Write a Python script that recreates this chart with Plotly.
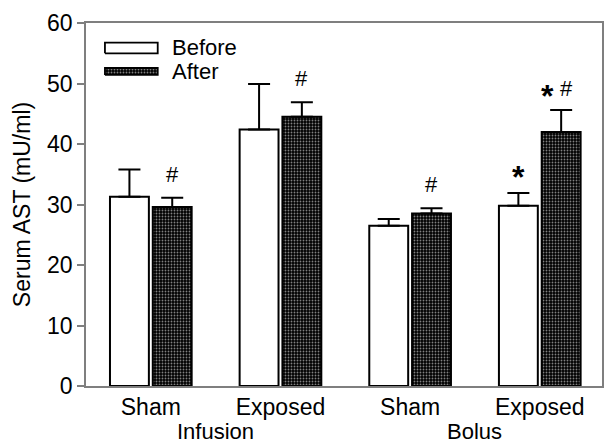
import plotly.graph_objects as go

categories = ["Sham", "Exposed", "Sham", "Exposed"]
groups = ["Infusion", "Bolus"]
before = [31.3, 42.4, 26.5, 29.8]
before_err = [4.5, 7.5, 1.1, 2.1]
after = [29.6, 44.5, 28.5, 42.0]
after_err = [1.5, 2.4, 0.9, 3.6]
before_star = [False, False, False, True]
after_star = [False, False, False, True]
after_hash = [True, True, True, True]
y_ticks = [0, 10, 20, 30, 40, 50, 60]

FONT = "Liberation Sans, Arial, sans-serif"
FS = 23
xpos = list(range(len(categories)))
AX = "#7f7f7f"
PATTERN = dict(shape=".", fgcolor="white", bgcolor="black", size=3, solidity=0.3)

fig = go.Figure()
fig.add_trace(go.Bar(
    x=xpos, y=before, name="Before", offset=-0.315, width=0.3,
    marker=dict(color="white", line=dict(color="black", width=2)),
    error_y=dict(type="data", array=before_err, arrayminus=[0]*4, symmetric=False,
                 color="black", thickness=2, width=11),
    showlegend=False,
))
fig.add_trace(go.Bar(
    x=xpos, y=after, name="After", offset=0.015, width=0.3,
    marker=dict(color="black", line=dict(color="black", width=2), pattern=PATTERN),
    error_y=dict(type="data", array=after_err, arrayminus=[0]*4, symmetric=False,
                 color="black", thickness=2, width=11),
    showlegend=False,
))

# legend drawn on an overlay axis spanning [0,1]
leg_boxes = {
    "Before": dict(x0=0.0367, x1=0.139, y0=0.9165, y1=0.946, fill="white", pat=None),
    "After": dict(x0=0.0367, x1=0.139, y0=0.857, y1=0.876, fill="black", pat=PATTERN),
}
for name, b in leg_boxes.items():
    kw = dict(fillcolor=b["fill"])
    if b["pat"]:
        kw["fillpattern"] = b["pat"]
    fig.add_trace(go.Scatter(
        x=[b["x0"], b["x1"], b["x1"], b["x0"], b["x0"]],
        y=[b["y0"], b["y0"], b["y1"], b["y1"], b["y0"]],
        xaxis="x2", yaxis="y2", mode="lines", fill="toself",
        line=dict(color="black", width=1.8), showlegend=False, hoverinfo="skip", **kw))
    fig.add_annotation(x=0.162, y=(b["y0"] + b["y1"]) / 2, xref="paper", yref="paper",
                       text=name, showarrow=False, xanchor="left", yanchor="middle",
                       font=dict(size=22, family=FONT, color="black"))

# significance marks
for i in range(len(categories)):
    if before_star[i]:
        fig.add_annotation(x=i - 0.165, y=before[i] + before_err[i], text="<b>*</b>",
                           showarrow=False, yanchor="bottom", yshift=-4,
                           font=dict(size=32, family=FONT, color="black"))
    if after_star[i]:
        fig.add_annotation(x=i + 0.165, y=after[i] + after_err[i], text="<b>*</b>",
                           showarrow=False, yanchor="bottom", yshift=-6, xshift=-14,
                           font=dict(size=32, family=FONT, color="black"))
    if after_hash[i]:
        fig.add_annotation(x=i + 0.165, y=after[i] + after_err[i], text="#",
                           showarrow=False, yanchor="bottom",
                           yshift=(7 if after_star[i] else 9),
                           xshift=(5 if after_star[i] else 0),
                           font=dict(size=22, family=FONT, color="black"))

# group labels
for gi, g in enumerate(groups):
    fig.add_annotation(x=gi * 2 + 0.5, y=0, xref="x", yref="paper", text=g,
                       showarrow=False, yanchor="top", yshift=-31,
                       font=dict(size=22, family=FONT, color="black"))

fig.update_layout(
    width=607, height=444,
    margin=dict(l=86, r=3, t=23, b=58),
    paper_bgcolor="white", plot_bgcolor="white",
    font=dict(family=FONT, size=FS, color="black"),
    xaxis=dict(range=[-0.5, 3.48], tickvals=xpos, ticktext=categories,
               showgrid=False, zeroline=False, showline=True, linecolor=AX, linewidth=1.5,
               mirror=True, ticks="", tickfont=dict(size=FS)),
    yaxis=dict(range=[0, 60], tickvals=y_ticks, showgrid=False, zeroline=False,
               showline=True, linecolor=AX, linewidth=1.5, mirror=True,
               ticks="outside", ticklen=7, tickcolor=AX, tickwidth=1.5,
               tickfont=dict(size=FS),
               title=dict(text="Serum AST (mU/ml)", font=dict(size=FS), standoff=10)),
    xaxis2=dict(range=[0, 1], overlaying="x", visible=False, fixedrange=True),
    yaxis2=dict(range=[0, 1], overlaying="y", visible=False, fixedrange=True),
    showlegend=False,
)

fig.write_html("out.html", config={"displayModeBar": False},
               post_script="document.body.style.margin='0';")
